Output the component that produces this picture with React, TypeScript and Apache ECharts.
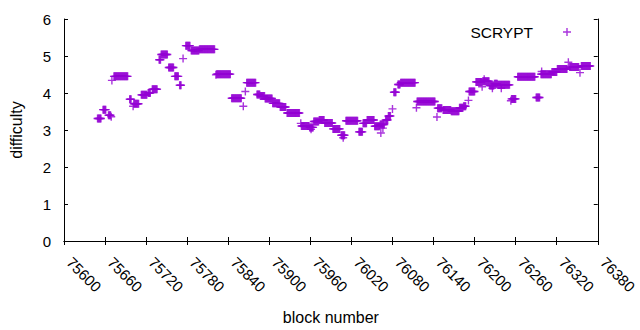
import { useEffect, useRef } from "react";
import * as echarts from "echarts";

// Runs of equal difficulty: [start block, end block, difficulty]
const runStartBlock = [
  75649, 75657, 75665, 75669, 75670, 75673, 75696, 75701, 75702, 75713,
  75723, 75729, 75739, 75742, 75753, 75762, 75769, 75774, 75778, 75786,
  75798, 75822, 75823, 75845, 75862, 75865, 75867, 75882, 75887, 75894,
  75905, 75916, 75926, 75946, 75947, 75959, 75961, 75965, 75973, 75981,
  75993, 76005, 76008, 76012, 76031, 76037, 76043, 76054, 76063, 76062,
  76066, 76070, 76074, 76080, 76082, 76088, 76092, 76115, 76116, 76145,
  76146, 76154, 76166, 76178, 76184, 76191, 76192, 76202, 76211, 76212,
  76214, 76222, 76226, 76229, 76234, 76239, 76253, 76254, 76263, 76290,
  76297, 76298, 76313, 76321, 76337, 76339, 76354, 76356,
];
const runEndBlock = [
  75654, 75661, 75668, 75669, 75670, 75693, 75698, 75701, 75709, 75721,
  75726, 75736, 75741, 75751, 75760, 75767, 75771, 75774, 75784, 75797,
  75820, 75822, 75843, 75859, 75862, 75865, 75880, 75886, 75893, 75904,
  75915, 75924, 75944, 75946, 75958, 75964, 75961, 75972, 75980, 75992,
  76003, 76010, 76008, 76029, 76036, 76042, 76053, 76061, 76063, 76068,
  76066, 76073, 76077, 76080, 76085, 76091, 76113, 76115, 76142, 76145,
  76152, 76165, 76177, 76183, 76187, 76191, 76200, 76210, 76211, 76221,
  76214, 76228, 76226, 76233, 76251, 76239, 76253, 76260, 76288, 76295,
  76312, 76298, 76320, 76335, 76337, 76352, 76354, 76369,
];
const runDifficulty = [
  3.31, 3.55, 3.40, 3.36, 4.34, 4.45, 3.83, 3.64, 3.71, 3.95,
  4.00, 4.10, 4.90, 5.04, 4.69, 4.45, 4.21, 4.93, 5.28, 5.15,
  5.18, 4.49, 4.51, 3.86, 3.64, 4.04, 4.28, 3.96, 3.92, 3.85,
  3.72, 3.62, 3.46, 3.18, 3.11, 3.07, 3.02, 3.23, 3.27, 3.19,
  3.03, 2.86, 2.79, 3.25, 2.95, 3.18, 3.27, 3.10, 2.92, 3.15,
  3.05, 3.27, 3.38, 3.57, 4.02, 4.23, 4.28, 3.60, 3.77, 3.35,
  3.59, 3.54, 3.51, 3.60, 3.64, 3.80, 4.04, 4.30, 4.17, 4.32,
  4.37, 4.20, 4.13, 4.25, 4.22, 4.13, 3.79, 3.84, 4.44, 3.88,
  4.51, 4.58, 4.57, 4.65, 4.83, 4.70, 4.55, 4.73,
];

const seriesName = "SCRYPT";
const xMin = 75600;
const xMax = 76380;
const xStep = 60;
const yMin = 0;
const yMax = 6;
const yStep = 1;

const FONT = "Liberation Sans";
const PURPLE = "#9400D3";
const PLUS = "path://M3.3,0H4.7V3.3H8V4.7H4.7V8H3.3V4.7H0V3.3H3.3Z";

export default function App() {
  const ref = useRef<HTMLDivElement>(null);
  useEffect(() => {
    const chart = echarts.init(ref.current!, null, { renderer: "svg" });
    const points: [number, number][] = [];
    runStartBlock.forEach((s, i) => {
      for (let b = s; b <= runEndBlock[i]; b++) points.push([b, runDifficulty[i]]);
    });
    const axisLine = { show: true, lineStyle: { color: "#000", width: 1 } };
    const axisTick = { show: true, inside: true, length: 4, lineStyle: { color: "#000", width: 1 } };
    const labelStyle = { color: "#000", fontSize: 15, fontFamily: FONT };
    chart.setOption({
      animation: false,
      backgroundColor: "#fff",
      textStyle: { fontFamily: FONT },
      grid: { left: 64, right: 30, top: 19, bottom: 84 },
      legend: {
        data: [seriesName],
        right: 69,
        top: 24,
        padding: 0,
        align: "right",
        itemWidth: 8,
        itemHeight: 8,
        icon: PLUS,
        textStyle: { color: "#000", fontSize: 15.5, fontFamily: FONT, padding: [0, 25, 0, 0] },
      },
      xAxis: [
        {
          type: "value",
          position: "bottom",
          min: xMin,
          max: xMax,
          interval: xStep,
          axisLine,
          axisTick,
          splitLine: { show: false },
          axisLabel: {
            ...labelStyle,
            rotate: -45,
            margin: 24,
            align: "left",
            verticalAlign: "bottom",
            formatter: (v: number) => String(v),
          },
          name: "block number",
          nameLocation: "middle",
          nameGap: 68,
          nameTextStyle: { color: "#000", fontSize: 16, fontFamily: FONT },
        },
        {
          type: "value",
          position: "top",
          min: xMin,
          max: xMax,
          interval: xStep,
          axisLine,
          axisTick,
          splitLine: { show: false },
          axisLabel: { show: false },
        },
      ],
      yAxis: [
        {
          type: "value",
          position: "left",
          min: yMin,
          max: yMax,
          interval: yStep,
          axisLine,
          axisTick,
          splitLine: { show: false },
          axisLabel: { ...labelStyle, margin: 13 },
          name: "difficulty",
          nameLocation: "middle",
          nameGap: 40,
          nameTextStyle: { color: "#000", fontSize: 16, fontFamily: FONT },
        },
        {
          type: "value",
          position: "right",
          min: yMin,
          max: yMax,
          interval: yStep,
          axisLine,
          axisTick,
          splitLine: { show: false },
          axisLabel: { show: false },
        },
      ],
      series: [
        {
          name: seriesName,
          type: "scatter",
          xAxisIndex: 0,
          yAxisIndex: 0,
          symbol: PLUS,
          symbolSize: 8,
          itemStyle: { color: PURPLE },
          data: points,
        },
      ],
    });
    return () => chart.dispose();
  }, []);
  return (
    <div
      ref={ref}
      style={{ position: "fixed", left: 0, top: 0, width: 640, height: 330 }}
    />
  );
}
